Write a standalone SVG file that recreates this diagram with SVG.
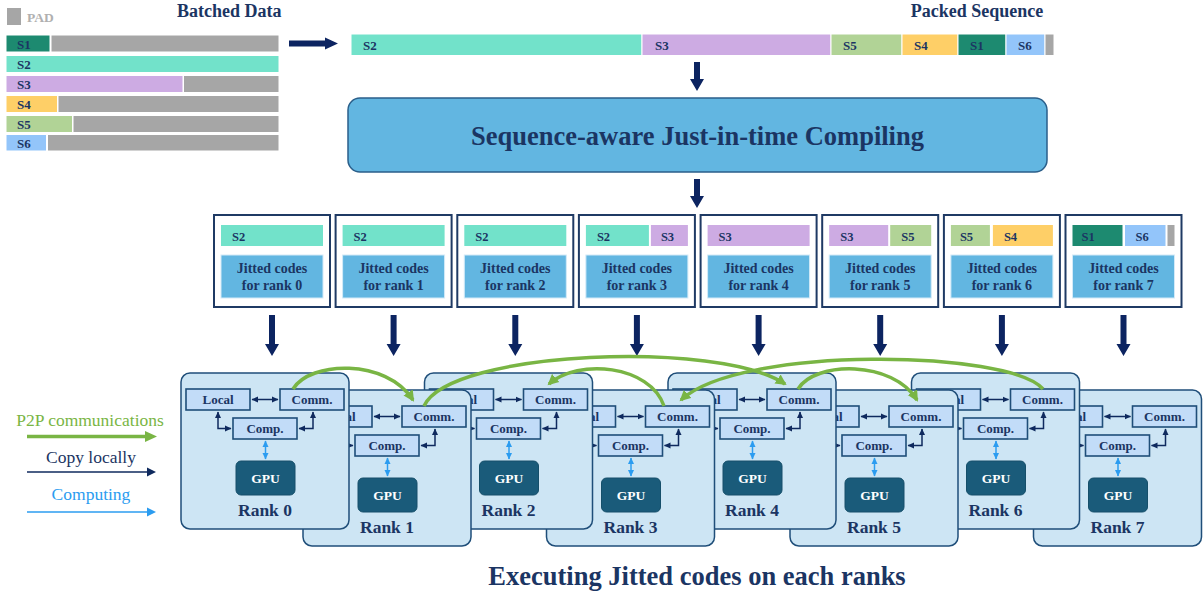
<svg xmlns="http://www.w3.org/2000/svg" width="1203" height="595" viewBox="0 0 1203 595">
<style>
.t{font-family:"Liberation Serif","Times New Roman",serif;font-weight:bold;fill:#1b3563}
.s{font-size:13px}
.js{font-size:12.5px}
.c{text-anchor:middle}
.card{fill:#cde5f4;stroke:#1f4e79;stroke-width:1.5}
.box{fill:#c2dcf8;stroke:#1f4e79;stroke-width:1.6}
.gpu{fill:#1a5b7a;stroke:#164f6a;stroke-width:1}
.bt{font-size:13px;text-anchor:middle}
.gt{font-family:"Liberation Serif","Times New Roman",serif;font-weight:bold;font-size:13.5px;fill:#ffffff;text-anchor:middle}
.rk{font-size:17.5px;text-anchor:middle}
.nav{fill:none;stroke:#0f2a5e;stroke-width:1.5;marker-start:url(#nv);marker-end:url(#nv)}
.cmp{fill:none;stroke:#2b9cf0;stroke-width:1.5;marker-start:url(#lb);marker-end:url(#lb)}
.p2p{fill:none;stroke:#79b544;stroke-width:3.5;marker-end:url(#gr)}
.jb{fill:#fff;stroke:#1f3a64;stroke-width:2}
.jc{fill:#62b6e1;stroke:#d3eaf8;stroke-width:1}
.jt{font-size:14px;text-anchor:middle}
.blk{fill:#0c2461}
.S1{fill:#1d8a70}.S2{fill:#72e2ca}.S3{fill:#cdabe3}.S4{fill:#fecf67}.S5{fill:#b1d396}.S6{fill:#93c5fa}.PAD{fill:#a6a6a6}
.seg{stroke:#fff;stroke-width:1}
.lg{font-family:"Liberation Serif","Times New Roman",serif;font-size:17.5px}
</style>
<defs>
<marker id="nv" markerUnits="userSpaceOnUse" markerWidth="7" markerHeight="7" refX="6" refY="3.5" orient="auto-start-reverse"><path d="M0,0.5 L6.5,3.5 L0,6.5 z" fill="#0f2a5e"/></marker>
<marker id="lb" markerUnits="userSpaceOnUse" markerWidth="7" markerHeight="7" refX="6" refY="3.5" orient="auto-start-reverse"><path d="M0,0.5 L6.5,3.5 L0,6.5 z" fill="#2b9cf0"/></marker>
<marker id="gr" markerUnits="userSpaceOnUse" markerWidth="12" markerHeight="12" refX="9" refY="6" orient="auto"><path d="M0,0.5 L11,6 L0,11.5 z" fill="#79b544"/></marker>
<marker id="grl" markerUnits="userSpaceOnUse" markerWidth="14" markerHeight="12" refX="3" refY="6" orient="auto"><path d="M0,0.5 L12,6 L0,11.5 z" fill="#79b544"/></marker>
<marker id="nvl" markerUnits="userSpaceOnUse" markerWidth="10" markerHeight="10" refX="2" refY="5" orient="auto"><path d="M0,0.5 L9,5 L0,9.5 z" fill="#0f2a5e"/></marker>
<marker id="lbl" markerUnits="userSpaceOnUse" markerWidth="10" markerHeight="10" refX="2" refY="5" orient="auto"><path d="M0,0.5 L9,5 L0,9.5 z" fill="#2b9cf0"/></marker>
<g id="rankInner">
<rect class="card" x="0" y="0" width="168" height="156" rx="9"/>
<rect class="box" x="5" y="16" width="64" height="21"/>
<text class="t bt" x="37" y="31">Local</text>
<rect class="box" x="99" y="16" width="64" height="21"/>
<text class="t bt" x="131" y="31">Comm.</text>
<rect class="box" x="52" y="45" width="64" height="21"/>
<text class="t bt" x="84" y="60">Comp.</text>
<line class="nav" x1="71" y1="26.5" x2="97" y2="26.5"/>
<path class="nav" d="M37,39 V55.5 H50"/>
<path class="nav" d="M132,39 V55.5 H118"/>
<line class="cmp" x1="84.5" y1="68" x2="84.5" y2="86"/>
<rect class="gpu" x="55" y="88" width="59" height="34" rx="5"/>
<text class="gt" x="84.5" y="110">GPU</text>
</g>
</defs>
<rect width="1203" height="595" fill="#fff"/>

<g id="legend-pad">
<rect x="7" y="8" width="14" height="17" class="PAD"/>
<text class="t" x="27" y="21.5" style="font-size:13.5px;fill:#b0b0b0">PAD</text>
</g>

<g id="batched-data">
<text class="t" x="177" y="17" style="font-size:18px">Batched Data</text>
<rect class="S1 seg" x="6" y="35" width="44" height="17"/><rect class="PAD seg" x="51" y="35" width="228" height="17"/>
<text class="t s" x="17" y="48.5">S1</text>
<rect class="S2 seg" x="6" y="55.5" width="273" height="17"/>
<text class="t s" x="17" y="69">S2</text>
<rect class="S3 seg" x="6" y="75.5" width="177" height="17"/><rect class="PAD seg" x="183.5" y="75.5" width="95.5" height="17"/>
<text class="t s" x="17" y="89">S3</text>
<rect class="S4 seg" x="6" y="95.5" width="51.5" height="17"/><rect class="PAD seg" x="58" y="95.5" width="221" height="17"/>
<text class="t s" x="17" y="109">S4</text>
<rect class="S5 seg" x="6" y="115.5" width="66.5" height="17"/><rect class="PAD seg" x="73" y="115.5" width="206" height="17"/>
<text class="t s" x="17" y="129">S5</text>
<rect class="S6 seg" x="6" y="134.5" width="40.5" height="16.5"/><rect class="PAD seg" x="47.5" y="134.5" width="231.5" height="16.5"/>
<text class="t s" x="17" y="147.5">S6</text>
</g>

<g id="packed-sequence">
<text class="t c" x="977" y="17" style="font-size:18px">Packed Sequence</text>
<rect class="S2 seg" x="351" y="34" width="291" height="21.5"/><text class="t s" x="363" y="49.5">S2</text>
<rect class="S3 seg" x="642" y="34" width="189" height="21.5"/><text class="t s" x="655" y="49.5">S3</text>
<rect class="S5 seg" x="831" y="34" width="71" height="21.5"/><text class="t s" x="843" y="49.5">S5</text>
<rect class="S4 seg" x="902" y="34" width="56" height="21.5"/><text class="t s" x="914" y="49.5">S4</text>
<rect class="S1 seg" x="958" y="34" width="48" height="21.5"/><text class="t s" x="970" y="49.5">S1</text>
<rect class="S6 seg" x="1006" y="34" width="39" height="21.5"/><text class="t s" x="1018" y="49.5">S6</text>
<rect class="PAD seg" x="1045" y="34" width="9" height="21.5"/>
</g>

<g id="compiler">
<rect x="348" y="98" width="699" height="74" rx="12" fill="#62b6e1" stroke="#2b5f8a" stroke-width="1.5"/>
<text class="t c" x="697.5" y="145" style="font-size:26.5px">Sequence-aware Just-in-time Compiling</text>
</g>

<g id="jitted-0" transform="translate(214,215)">
<rect class="jb" x="0" y="0" width="116" height="92"/>
<rect class="S2" x="7" y="10" width="102" height="21"/><text class="t js" x="18" y="25.5">S2</text>
<rect class="jc" x="7" y="40" width="102" height="43"/>
<text class="t jt" x="58" y="57.5">Jitted codes</text><text class="t jt" x="58" y="75">for rank 0</text>
</g>
<g id="jitted-1" transform="translate(335.6,215)">
<rect class="jb" x="0" y="0" width="116" height="92"/>
<rect class="S2" x="7" y="10" width="102" height="21"/><text class="t js" x="18" y="25.5">S2</text>
<rect class="jc" x="7" y="40" width="102" height="43"/>
<text class="t jt" x="58" y="57.5">Jitted codes</text><text class="t jt" x="58" y="75">for rank 1</text>
</g>
<g id="jitted-2" transform="translate(457.3,215)">
<rect class="jb" x="0" y="0" width="116" height="92"/>
<rect class="S2" x="7" y="10" width="102" height="21"/><text class="t js" x="18" y="25.5">S2</text>
<rect class="jc" x="7" y="40" width="102" height="43"/>
<text class="t jt" x="58" y="57.5">Jitted codes</text><text class="t jt" x="58" y="75">for rank 2</text>
</g>
<g id="jitted-3" transform="translate(578.9,215)">
<rect class="jb" x="0" y="0" width="116" height="92"/>
<rect class="S2" x="7" y="10" width="63" height="21"/><text class="t js" x="18" y="25.5">S2</text>
<rect class="S3" x="72" y="10" width="37" height="21"/><text class="t js" x="82" y="25.5">S3</text>
<rect class="jc" x="7" y="40" width="102" height="43"/>
<text class="t jt" x="58" y="57.5">Jitted codes</text><text class="t jt" x="58" y="75">for rank 3</text>
</g>
<g id="jitted-4" transform="translate(700.6,215)">
<rect class="jb" x="0" y="0" width="116" height="92"/>
<rect class="S3" x="7" y="10" width="102" height="21"/><text class="t js" x="18" y="25.5">S3</text>
<rect class="jc" x="7" y="40" width="102" height="43"/>
<text class="t jt" x="58" y="57.5">Jitted codes</text><text class="t jt" x="58" y="75">for rank 4</text>
</g>
<g id="jitted-5" transform="translate(822.2,215)">
<rect class="jb" x="0" y="0" width="116" height="92"/>
<rect class="S3" x="7" y="10" width="59" height="21"/><text class="t js" x="18" y="25.5">S3</text>
<rect class="S5" x="68" y="10" width="41" height="21"/><text class="t js" x="79" y="25.5">S5</text>
<rect class="jc" x="7" y="40" width="102" height="43"/>
<text class="t jt" x="58" y="57.5">Jitted codes</text><text class="t jt" x="58" y="75">for rank 5</text>
</g>
<g id="jitted-6" transform="translate(943.9,215)">
<rect class="jb" x="0" y="0" width="116" height="92"/>
<rect class="S5" x="7" y="10" width="39" height="21"/><text class="t js" x="16" y="25.5">S5</text>
<rect class="S4" x="49" y="10" width="60" height="21"/><text class="t js" x="60" y="25.5">S4</text>
<rect class="jc" x="7" y="40" width="102" height="43"/>
<text class="t jt" x="58" y="57.5">Jitted codes</text><text class="t jt" x="58" y="75">for rank 6</text>
</g>
<g id="jitted-7" transform="translate(1065.5,215)">
<rect class="jb" x="0" y="0" width="116" height="92"/>
<rect class="S1" x="7" y="10" width="50" height="21"/><text class="t js" x="16" y="25.5">S1</text>
<rect class="S6" x="59.5" y="10" width="40.5" height="21"/><text class="t js" x="70" y="25.5">S6</text>
<rect class="PAD" x="102" y="10" width="7" height="21"/>
<rect class="jc" x="7" y="40" width="102" height="43"/>
<text class="t jt" x="58" y="57.5">Jitted codes</text><text class="t jt" x="58" y="75">for rank 7</text>
</g>

<g id="rank7" transform="translate(1033.5,390)"><use href="#rankInner"/><text class="t rk" x="84" y="143">Rank 7</text></g>
<g id="rank6" transform="translate(911.5,373)"><use href="#rankInner"/><text class="t rk" x="84" y="143">Rank 6</text></g>
<g id="rank5" transform="translate(790,390)"><use href="#rankInner"/><text class="t rk" x="84" y="143">Rank 5</text></g>
<g id="rank4" transform="translate(668,373)"><use href="#rankInner"/><text class="t rk" x="84" y="143">Rank 4</text></g>
<g id="rank3" transform="translate(546.5,390)"><use href="#rankInner"/><text class="t rk" x="84" y="143">Rank 3</text></g>
<g id="rank2" transform="translate(424.5,373)"><use href="#rankInner"/><text class="t rk" x="84" y="143">Rank 2</text></g>
<g id="rank1" transform="translate(303,390)"><use href="#rankInner"/><text class="t rk" x="84" y="143">Rank 1</text></g>
<g id="rank0" transform="translate(181,373)"><use href="#rankInner"/><text class="t rk" x="84" y="143">Rank 0</text></g>

<g id="connectors">
<polygon class="blk" points="289,40.5 325,40.5 325,37.5 338,43.5 325,49.5 325,46.5 289,46.5"/>
<polygon class="blk" points="694,62 700,62 700,79 704,79 697,91 690,79 694,79"/>
<polygon class="blk" points="694,179 700,179 700,196 704,196 697,208 690,196 694,196"/>
<g id="dispatch-arrows">
<polygon class="blk" points="269,315 275,315 275,344 279,344 272,356 265,344 269,344"/>
<polygon class="blk" points="390.6,315 396.6,315 396.6,344 400.6,344 393.6,356 386.6,344 390.6,344"/>
<polygon class="blk" points="512.3,315 518.3,315 518.3,344 522.3,344 515.3,356 508.3,344 512.3,344"/>
<polygon class="blk" points="633.9,315 639.9,315 639.9,344 643.9,344 636.9,356 629.9,344 633.9,344"/>
<polygon class="blk" points="755.6,315 761.6,315 761.6,344 765.6,344 758.6,356 751.6,344 755.6,344"/>
<polygon class="blk" points="877.2,315 883.2,315 883.2,344 887.2,344 880.2,356 873.2,344 877.2,344"/>
<polygon class="blk" points="998.9,315 1004.9,315 1004.9,344 1008.9,344 1001.9,356 994.9,344 998.9,344"/>
<polygon class="blk" points="1120.5,315 1126.5,315 1126.5,344 1130.5,344 1123.5,356 1116.5,344 1120.5,344"/>
</g>
<g id="p2p">
<path class="p2p" d="M293,389 C310,361 386,358 413,400"/>
<path class="p2p" d="M424,406 C450,350 720,340 785,384"/>
<path class="p2p" d="M664,406 C650,365 578,358 549,384"/>
<path class="p2p" d="M1043,389 C1010,350 740,345 681,400"/>
<path class="p2p" d="M798,389 C815,361 893,360 917,400"/>
</g>
</g>

<g id="legend">
<text class="lg" x="90" y="426" text-anchor="middle" fill="#79b544">P2P communications</text>
<line x1="27" y1="436.5" x2="148" y2="436.5" stroke="#79b544" stroke-width="3.5" marker-end="url(#grl)"/>
<text class="lg" x="91" y="463" text-anchor="middle" fill="#1b3563">Copy locally</text>
<line x1="27" y1="472" x2="149" y2="472" stroke="#0f2a5e" stroke-width="1.5" marker-end="url(#nvl)"/>
<text class="lg" x="91" y="500" text-anchor="middle" fill="#2b9cf0">Computing</text>
<line x1="27" y1="512" x2="149" y2="512" stroke="#2b9cf0" stroke-width="1.5" marker-end="url(#lbl)"/>
</g>

<text class="t c" x="697" y="585" style="font-size:26.5px">Executing Jitted codes on each ranks</text>
</svg>
